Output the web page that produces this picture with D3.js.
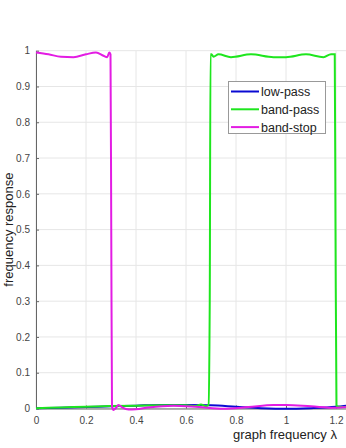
<!DOCTYPE html>
<html><head><meta charset="utf-8">
<script src="https://cdn.jsdelivr.net/npm/d3@7"></script>
<style>body{margin:0;background:#fff}svg{display:block}</style>
</head><body>
<svg id="c" width="346" height="448"></svg>
<script>
const xTicks = [0, 0.2, 0.4, 0.6, 0.8, 1, 1.2];
const yTicks = [0, 0.1, 0.2, 0.3, 0.4, 0.5, 0.6, 0.7, 0.8, 0.9, 1];
const xTickLabels = ["0","0.2","0.4","0.6","0.8","1","1.2"];
const yTickLabels = ["0","0.1","0.2","0.3","0.4","0.5","0.6","0.7","0.8","0.9","1"];
const seriesNames = ["low-pass","band-pass","band-stop"];

const lowLambda = [0, 0.1, 0.2, 0.3, 0.4, 0.5, 0.6, 0.7, 0.8, 0.9, 1.0, 1.1, 1.2, 1.24];
const lowValues = [0.001, 0.002, 0.004, 0.006, 0.008, 0.01, 0.01, 0.009, 0.005, 0.001, -0.001, 0.001, 0.005, 0.008];

const bpLambda = [0, 0.1, 0.2, 0.3, 0.4, 0.5, 0.6, 0.64, 0.66, 0.68, 0.69, 0.695, 0.698, 0.702, 0.71, 0.73, 0.78, 0.86, 0.95, 1.0, 1.08, 1.15, 1.18, 1.195, 1.198, 1.202, 1.21, 1.24];
const bpValues = [0.001, 0.003, 0.005, 0.007, 0.008, 0.009, 0.009, 0.007, 0.011, 0.006, 0.01, 0.3, 0.99, 0.99, 0.983, 0.99, 0.982, 0.99, 0.982, 0.982, 0.99, 0.982, 0.99, 0.99, 0.5, 0.008, 0.005, 0.004];

const bsLambda = [0, 0.05, 0.1, 0.15, 0.2, 0.24, 0.27, 0.285, 0.293, 0.298, 0.301, 0.304, 0.31, 0.318, 0.33, 0.345, 0.37, 0.4, 0.45, 0.55, 0.65, 0.75, 0.85, 0.95, 1.0, 1.1, 1.2, 1.24];
const bsValues = [0.995, 0.99, 0.983, 0.982, 0.99, 0.995, 0.986, 0.982, 0.995, 0.99, 0.5, 0.005, -0.004, 0.0, 0.01, 0.003, -0.003, -0.002, 0.003, 0.008, 0.004, -0.001, 0.004, 0.01, 0.01, 0.006, 0.002, 0.004];

const colors = ["#0a0ad2", "#1ee61e", "#e31ce3"];

const svg = d3.select("#c");
const x = d3.scaleLinear().domain([0, 1.24]).range([36, 346]);
const y = d3.scaleLinear().domain([0, 1]).range([408.5, 50.7]);

// grid
svg.append("g").selectAll("line").data(xTicks).join("line")
  .attr("x1", d => x(d)).attr("x2", d => x(d)).attr("y1", y(0)).attr("y2", y(1))
  .attr("stroke", "#e6e6e6").attr("stroke-width", 1);
svg.append("g").selectAll("line").data(yTicks).join("line")
  .attr("x1", x(0)).attr("x2", 346).attr("y1", d => y(d)).attr("y2", d => y(d))
  .attr("stroke", "#e6e6e6").attr("stroke-width", 1);

// axes
const xAxis = d3.axisBottom(x).tickValues(xTicks).tickFormat((d,i) => xTickLabels[i]).tickSizeInner(-3).tickSizeOuter(0).tickPadding(8);
const yAxis = d3.axisLeft(y).tickValues(yTicks).tickFormat((d,i) => yTickLabels[i]).tickSizeInner(-3).tickSizeOuter(0).tickPadding(6);
const gx = svg.append("g").attr("transform", `translate(0,${y(0)})`).call(xAxis);
const gy = svg.append("g").attr("transform", `translate(${x(0)},0)`).call(yAxis);
[gx, gy].forEach(g => {
  g.selectAll("path").attr("stroke", "#666");
  g.selectAll("line").attr("stroke", "#666");
  g.selectAll("text").attr("fill", "#444").attr("font-family", "Liberation Sans, Arial, sans-serif").attr("font-size", 10);
});

// lines
const line = d3.line().x(d => x(d[0])).y(d => y(d[1])).curve(d3.curveMonotoneX);
const series = [
  [lowLambda, lowValues],
  [bpLambda, bpValues],
  [bsLambda, bsValues]
];
series.forEach((s, i) => {
  const pts = s[0].map((l, j) => [l, s[1][j]]);
  svg.append("path").datum(pts).attr("d", line)
    .attr("fill", "none").attr("stroke", colors[i]).attr("stroke-width", 2);
});

// labels
svg.append("text").attr("transform", `translate(13,${(y(0)+y(1))/2}) rotate(-90)`)
  .attr("text-anchor", "middle").attr("font-family", "Liberation Sans, Arial, sans-serif")
  .attr("font-size", 13).attr("fill", "#222").text("frequency response");
svg.append("text").attr("x", 337).attr("y", 439).attr("text-anchor", "end")
  .attr("font-family", "Liberation Sans, Arial, sans-serif")
  .attr("font-size", 13).attr("fill", "#222").text("graph frequency λ");

// legend
const lg = svg.append("g");
lg.append("rect").attr("x", 228.5).attr("y", 81.5).attr("width", 97).attr("height", 52)
  .attr("fill", "#fff").attr("stroke", "#999").attr("stroke-width", 1);
seriesNames.forEach((n, i) => {
  const yy = 91.5 + i * 17.8;
  lg.append("line").attr("x1", 231).attr("x2", 259).attr("y1", yy).attr("y2", yy)
    .attr("stroke", colors[i]).attr("stroke-width", 2);
  lg.append("text").attr("x", 261).attr("y", yy + 4.5)
    .attr("font-family", "Liberation Sans, Arial, sans-serif").attr("font-size", 12.5)
    .attr("fill", "#222").text(n);
});
</script>
</body></html>
